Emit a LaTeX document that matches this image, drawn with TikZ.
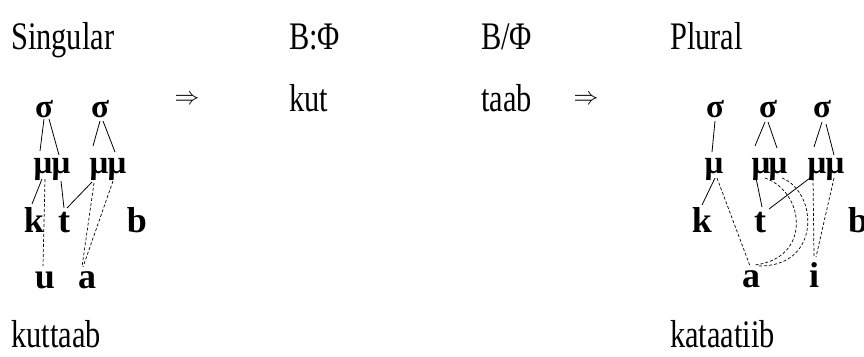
\documentclass[tikz,border=0pt]{standalone}
\usepackage{fontspec}
\setmainfont{Liberation Serif}
\newfontfamily\condfont[FakeStretch=0.78]{Liberation Serif}
\begin{document}
\begin{tikzpicture}[x=1pt, y=-1pt,
    txt/.style={inner sep=0, anchor=base west, font=\condfont\fontsize{39}{39}\selectfont},
    arr/.style={inner sep=0, font=\fontsize{29}{29}\selectfont},
    seg/.style={inner sep=0, anchor=base, font=\bfseries\fontsize{36}{36}\selectfont},
    syl/.style={inner sep=0, anchor=base, font=\bfseries\fontsize{33}{33}\selectfont},
    assoc/.style={dash pattern=on 3pt off 2pt, line width=0.7pt}]
    \useasboundingbox (0,0) rectangle (864,356);

    % headings and the middle row
    \node[txt] (sg) at (11,49) {Singular};
    \node[txt] (bphi) at (289,49) {B:Φ};
    \node[txt] (bsl) at (481,49) {B/Φ};
    \node[txt] (pl) at (670,49) {Plural};
    \node[arr] (to1) at (187,100) {$\Rightarrow$};
    \node[txt] (kut) at (289,111) {kut};
    \node[txt] (taab) at (481,111) {taab};
    \node[arr] (to2) at (586,100) {$\Rightarrow$};
    \node[txt] (sgform) at (11,347) {kuttaab};
    \node[txt] (plform) at (670,347) {kataatiib};

    % singular tree
    \node[syl] (ls1) at (44,117) {σ};
    \node[syl] (ls2) at (100,117) {σ};
    \node[syl] (lm1) at (43,173) {μ};
    \node[syl] (lm2) at (61,173) {μ};
    \node[syl] (lm3) at (99,173) {μ};
    \node[syl] (lm4) at (117,173) {μ};
    \node[seg] (lk) at (34,232) {k};
    \node[seg] (lt) at (64,232) {t};
    \node[seg] (lb) at (137,232) {b};
    \node[seg] (lu) at (45,288) {u};
    \node[seg] (la) at (87,288) {a};

    \draw[line width=0.8pt] ([shift={(0,2)}]ls1.base) -- ([shift={(-3,-22)}]lm1.base);
    \draw[line width=0.8pt] ([shift={(5,2)}]ls1.base) -- ([shift={(-2,-18)}]lm2.base);
    \draw[line width=0.8pt] ([shift={(0,4)}]ls2.base) -- ([shift={(-6,-27)}]lm3.base);
    \draw[line width=0.8pt] ([shift={(3,4)}]ls2.base) -- ([shift={(-2,-21)}]lm4.base);
    \draw[line width=0.8pt] ([shift={(-1,6)}]lm1.base) -- ([shift={(-2,-28)}]lk.base);
    \draw[line width=0.8pt] ([shift={(0,8)}]lm2.base) -- ([shift={(0,-24)}]lt.base);
    \draw[line width=0.8pt] ([shift={(-7,9)}]lm3.base) -- ([shift={(3,-24)}]lt.base);
    \draw[assoc] ([shift={(2,6)}]lm1.base) -- ([shift={(-2,-22)}]lu.base);
    \draw[assoc] ([shift={(-5,10)}]lm3.base) -- ([shift={(-5,-21)}]la.base);
    \draw[assoc] ([shift={(-4,8)}]lm4.base) -- ([shift={(-4,-21)}]la.base);

    % plural tree
    \node[syl] (rs1) at (715,117) {σ};
    \node[syl] (rs2) at (768,117) {σ};
    \node[syl] (rs3) at (822,117) {σ};
    \node[syl] (rm1) at (714,173) {μ};
    \node[syl] (rm2) at (761,173) {μ};
    \node[syl] (rm3) at (778,173) {μ};
    \node[syl] (rm4) at (817,173) {μ};
    \node[syl] (rm5) at (835,173) {μ};
    \node[seg] (rk) at (702,232) {k};
    \node[seg] (rt) at (760,232) {t};
    \node[seg] (rb) at (858,232) {b};
    \node[seg] (ra) at (751,287) {a};
    \node[seg] (ri) at (814,287) {i};

    \draw[line width=0.8pt] ([shift={(0,4)}]rs1.base) -- ([shift={(-2,-21)}]rm1.base);
    \draw[line width=0.8pt] ([shift={(-3,5)}]rs2.base) -- ([shift={(-6,-27)}]rm2.base);
    \draw[line width=0.8pt] ([shift={(0,5)}]rs2.base) -- ([shift={(-1,-25)}]rm3.base);
    \draw[line width=0.8pt] ([shift={(0,5)}]rs3.base) -- ([shift={(-3,-26)}]rm4.base);
    \draw[line width=0.8pt] ([shift={(4,7)}]rs3.base) -- ([shift={(-1,-18)}]rm5.base);
    \draw[line width=0.8pt] ([shift={(1,5)}]rm1.base) -- ([shift={(0,-27)}]rk.base);
    \draw[line width=0.8pt] ([shift={(-5,5)}]rm2.base) -- ([shift={(2,-25)}]rt.base);
    \draw[line width=0.8pt] ([shift={(-7,5)}]rm4.base) -- ([shift={(9,-23)}]rt.base);
    \draw[assoc] ([shift={(3,5)}]rm1.base) -- ([shift={(-1,-21)}]ra.base);
    \draw[assoc] ([shift={(4,5)}]rm2.base) .. controls +(40,14) and +(57,-7) .. ([shift={(4,-22)}]ra.base);
    \draw[assoc] ([shift={(4,5)}]rm3.base) .. controls +(36,14) and +(65,2) .. ([shift={(6,-21)}]ra.base);
    \draw[assoc] ([shift={(-4,5)}]rm4.base) -- ([shift={(0,-30)}]ri.base);
    \draw[assoc] ([shift={(-1,5)}]rm5.base) -- ([shift={(2,-30)}]ri.base);
\end{tikzpicture}
\end{document}
